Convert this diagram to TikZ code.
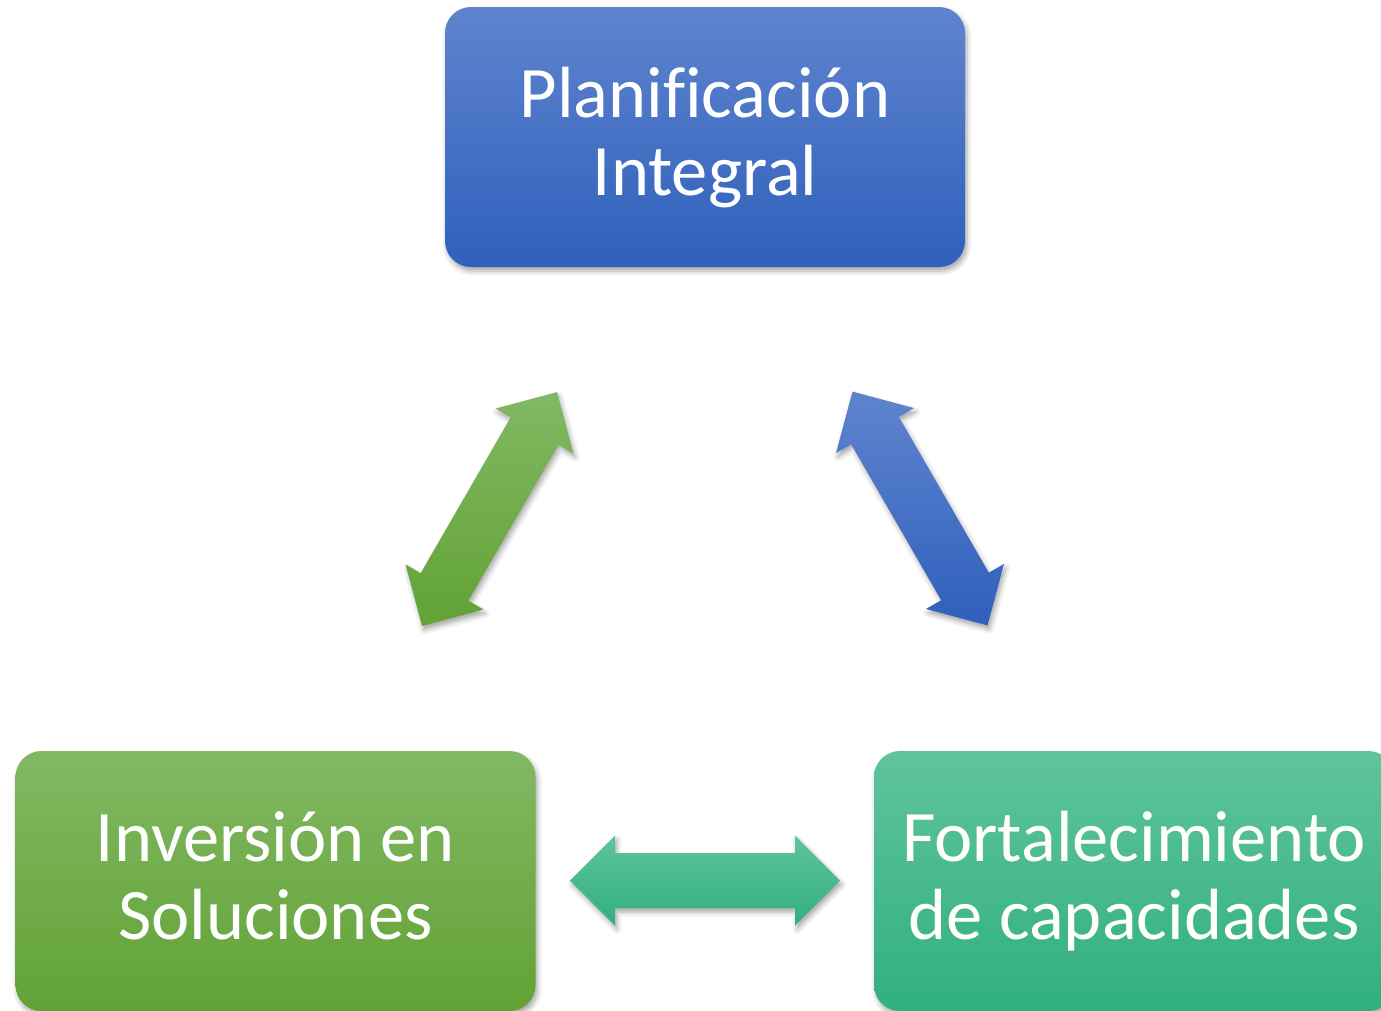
\documentclass[tikz,border=0pt]{standalone}
\usepackage{fontspec}
\setmainfont[Ligatures=NoCommon]{Carlito}
\usetikzlibrary{shadows.blur}
\definecolor{blueT}{HTML}{5F84CE}
\definecolor{blueB}{HTML}{2F60BC}
\definecolor{greenT}{HTML}{82B863}
\definecolor{greenB}{HTML}{62A235}
\definecolor{tealT}{HTML}{5FC49B}
\definecolor{tealB}{HTML}{31B07F}
\tikzset{
  softshadow/.style={blur shadow={shadow xshift=2pt, shadow yshift=-4pt, shadow blur radius=5pt, shadow opacity=35}},
  box/.style={rounded corners=26pt, minimum width=520pt, minimum height=260pt, inner sep=0pt,
    align=center, text=white, font=\fontsize{72.5}{78}\selectfont, softshadow},
  fat/.style={softshadow}
}
\newcommand\tstr{\rule{0pt}{60pt}}
\newcommand\bstr{\rule[-21pt]{0pt}{21pt}}
\newcommand\fatarrow[4]{%
  \path[fat, top color=#3, bottom color=#4]
    ([shift={(#1)},rotate=#2]-135,0) --
    ([shift={(#1)},rotate=#2]-90,-45) --
    ([shift={(#1)},rotate=#2]-90,-27.5) --
    ([shift={(#1)},rotate=#2]90,-27.5) --
    ([shift={(#1)},rotate=#2]90,-45) --
    ([shift={(#1)},rotate=#2]135,0) --
    ([shift={(#1)},rotate=#2]90,45) --
    ([shift={(#1)},rotate=#2]90,27.5) --
    ([shift={(#1)},rotate=#2]-90,27.5) --
    ([shift={(#1)},rotate=#2]-90,45) -- cycle;
}
\begin{document}
\begin{tikzpicture}[x=1pt,y=-1pt]
\useasboundingbox (0,0) rectangle (1381,1010);
\clip (0,0) rectangle (1381,1010);
\node[box, top color=blueT, bottom color=blueB] (plan) at (705,137) {\tstr Planificación\\Integral\bstr};
\node[box, top color=greenT, bottom color=greenB] (inv) at (275.5,881) {\tstr Inversión en\\Soluciones\bstr};
\node[box, top color=tealT, bottom color=tealB] (fort) at (1134,881) {\tstr Fortalecimiento\\de capacidades\bstr};
\coordinate (ga) at (489.5,509);
\coordinate (ba) at (920,508.5);
\coordinate (ha) at (705,880.5);
\fatarrow{ga}{60}{greenT}{greenB}
\fatarrow{ba}{-60}{blueT}{blueB}
\fatarrow{ha}{0}{tealT}{tealB}
\end{tikzpicture}
\end{document}
